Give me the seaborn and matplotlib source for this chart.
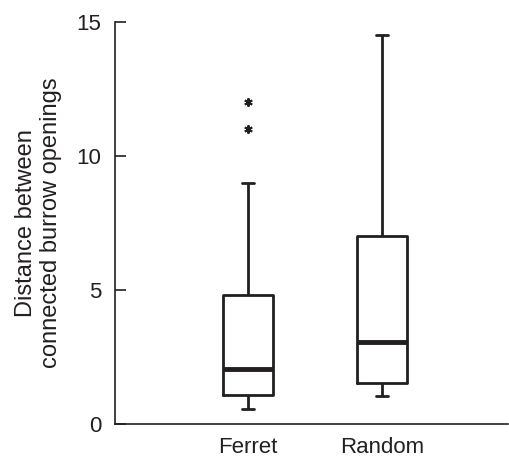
import numpy as np
import pandas as pd
import matplotlib
matplotlib.use("Agg")
import matplotlib.pyplot as plt
import seaborn as sns

ferret = [0.55, 0.8, 1.0, 1.1, 1.4, 1.8, 2.05, 2.5, 3.5, 4.8, 9.0, 11.0, 12.0]
random_ = [1.05, 1.3, 1.55, 2.2, 3.05, 4.5, 7.0, 10.0, 14.5]
groups = ["Ferret", "Random"]
yticks = [0, 5, 10, 15]

df = pd.DataFrame({
    "group": ["Ferret"] * len(ferret) + ["Random"] * len(random_),
    "distance": ferret + random_,
})

sns.set_style("ticks")
plt.rcParams["font.family"] = ["Liberation Sans", "DejaVu Sans"]

ink = "#231f20"
fig = plt.figure(figsize=(5.09, 4.57), dpi=100)
ax = fig.add_axes([0.226, 0.072, 0.772, 0.88])

sns.boxplot(
    data=df, x="group", y="distance", order=groups, ax=ax,
    width=0.37, fill=False, color=ink, linecolor=ink, linewidth=2,
    whis=1.5, capwidths=0.09,
    medianprops=dict(linewidth=3.5, color=ink),
    flierprops=dict(marker=(6, 2, 0), markersize=6, markeredgewidth=1.4,
                    markeredgecolor=ink, markerfacecolor=ink),
)

ax.set_xlim(-0.99, 1.94)
ax.set_ylim(0, 15)
ax.set_yticks(yticks)
ax.set_xlabel("")
ax.set_ylabel("Distance between\nconnected burrow openings", fontsize=17,
              labelpad=10, color=ink)
ax.tick_params(axis="y", direction="in", length=8, width=1.2, pad=10,
               labelsize=16, colors=ink)
ax.tick_params(axis="x", length=0, pad=9, labelsize=16, colors=ink)
for s in ["top", "right"]:
    ax.spines[s].set_visible(False)
for s in ["left", "bottom"]:
    ax.spines[s].set_linewidth(1.2)
    ax.spines[s].set_color(ink)

fig.savefig("out.png", dpi=100)
